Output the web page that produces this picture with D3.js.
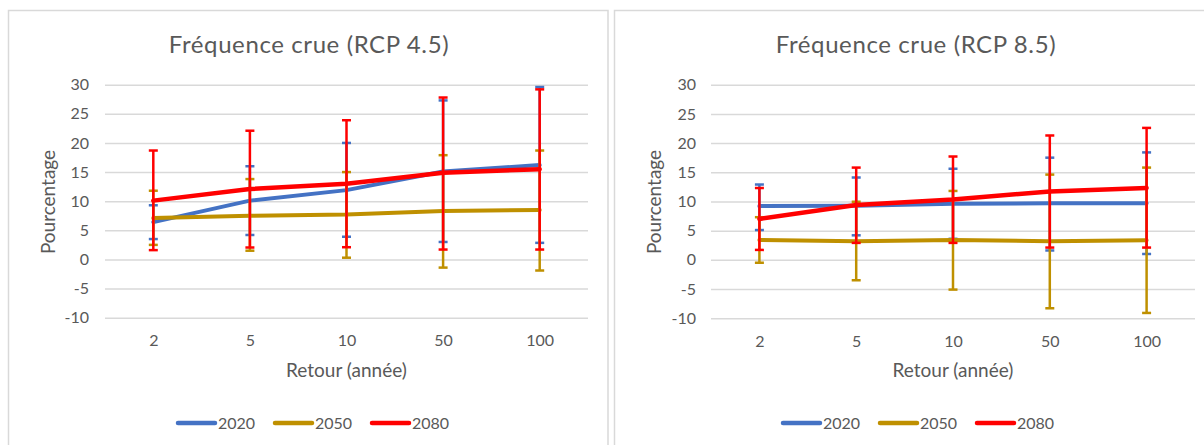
<!DOCTYPE html>
<html>
<head>
<meta charset="utf-8">
<script src="https://cdn.jsdelivr.net/npm/d3@7"></script>
<style>
  html, body { margin: 0; padding: 0; background: #ffffff; }
  svg { display: block; }
</style>
</head>
<body>
<svg id="chart" width="1204" height="445"></svg>
<script>
// ---------- data ----------
const categories = ["2", "5", "10", "50", "100"];
const years = ["2020", "2050", "2080"];
const yTicks = [-10, -5, 0, 5, 10, 15, 20, 25, 30];
const titles = ["Fréquence crue (RCP 4.5)", "Fréquence crue (RCP 8.5)"];
const xTitle = "Retour (année)";
const yTitle = "Pourcentage";

// RCP 4.5
const rcp45_2020 = [6.4, 10.1, 11.9, 15.1, 16.2];
const rcp45_2050 = [7.1, 7.5, 7.7, 8.3, 8.5];
const rcp45_2080 = [10.1, 12.1, 13.0, 14.9, 15.5];
const rcp45_2020_low = [3.5, 4.2, 3.9, 3.0, 2.85];
const rcp45_2020_high = [9.3, 16.0, 20.0, 27.3, 29.6];
const rcp45_2050_low = [2.5, 1.5, 0.3, -1.4, -1.9];
const rcp45_2050_high = [11.8, 13.8, 15.0, 17.9, 18.7];
const rcp45_2080_low = [1.6, 2.05, 2.1, 1.7, 1.7];
const rcp45_2080_high = [18.7, 22.1, 23.9, 27.8, 29.2];

// RCP 8.5
const rcp85_2020 = [9.2, 9.25, 9.6, 9.7, 9.7];
const rcp85_2050 = [3.4, 3.2, 3.4, 3.2, 3.35];
const rcp85_2080 = [7.0, 9.4, 10.35, 11.7, 12.3];
const rcp85_2020_low = [5.1, 4.2, 3.6, 1.6, 1.0];
const rcp85_2020_high = [12.9, 14.1, 15.6, 17.5, 18.4];
const rcp85_2050_low = [-0.5, -3.5, -5.1, -8.3, -9.1];
const rcp85_2050_high = [7.3, 9.95, 11.8, 14.6, 15.8];
const rcp85_2080_low = [1.7, 2.9, 2.9, 2.1, 2.1];
const rcp85_2080_high = [12.3, 15.8, 17.7, 21.3, 22.6];

const colors = ["#4472C4", "#BF9000", "#FF0000"];

const panelsData = [
  {
    title: titles[0],
    series: [
      { mean: rcp45_2020, low: rcp45_2020_low, high: rcp45_2020_high },
      { mean: rcp45_2050, low: rcp45_2050_low, high: rcp45_2050_high },
      { mean: rcp45_2080, low: rcp45_2080_low, high: rcp45_2080_high }
    ]
  },
  {
    title: titles[1],
    series: [
      { mean: rcp85_2020, low: rcp85_2020_low, high: rcp85_2020_high },
      { mean: rcp85_2050, low: rcp85_2050_low, high: rcp85_2050_high },
      { mean: rcp85_2080, low: rcp85_2080_low, high: rcp85_2080_high }
    ]
  }
];

// ---------- layout ----------
const layout = [
  { box: [8.5, 10.5, 599.5, 460], plotX: [105, 588], plotY: [317.7, 84.7], titleX: 309, yLabelX: 49, tickRight: 89, legendX: 176 },
  { box: [614.5, 10.5, 620, 460], plotX: [711, 1195], plotY: [318.2, 84.7], titleX: 916, yLabelX: 655, tickRight: 696, legendX: 781 }
];

const FONT = "Lato, 'Open Sans', sans-serif";
const TEXT = "#595959";
const svg = d3.select("#chart");

panelsData.forEach((panel, pi) => {
  const L = layout[pi];
  const g = svg.append("g");

  g.append("rect")
    .attr("x", L.box[0]).attr("y", L.box[1])
    .attr("width", L.box[2]).attr("height", L.box[3])
    .attr("fill", "#fff").attr("stroke", "#D9D9D9").attr("stroke-width", 1.5);

  const x = d3.scalePoint().domain(categories).range(L.plotX).padding(0.5);
  const y = d3.scaleLinear().domain([-10, 30]).range(L.plotY);

  // gridlines
  const yAxis = d3.axisLeft(y).tickValues(yTicks).tickFormat(d => String(d))
    .tickSize(-(L.plotX[1] - L.plotX[0])).tickPadding(L.plotX[0] - L.tickRight);
  const ya = g.append("g").attr("transform", `translate(${L.plotX[0]},0)`).call(yAxis);
  ya.select(".domain").remove();
  ya.selectAll(".tick line").attr("stroke", "#D9D9D9").attr("stroke-width", 1.5);
  ya.selectAll(".tick text").attr("fill", TEXT).attr("font-family", FONT).attr("font-size", 16);

  // x axis labels
  const xAxis = d3.axisBottom(x).tickSize(0).tickPadding(0);
  const xa = g.append("g").attr("transform", `translate(0,${L.plotY[0] + 17})`).call(xAxis);
  xa.select(".domain").remove();
  xa.selectAll(".tick text").attr("fill", TEXT).attr("font-family", FONT).attr("font-size", 16);

  // title
  g.append("text").attr("x", L.titleX).attr("y", 53).attr("text-anchor", "middle")
    .attr("fill", TEXT).attr("font-family", FONT).attr("font-size", 24)
    .attr("letter-spacing", 0.6).text(panel.title);

  // axis titles
  g.append("text").attr("x", (L.plotX[0] + L.plotX[1]) / 2 - 0).attr("y", 377)
    .attr("text-anchor", "middle").attr("fill", TEXT).attr("font-family", FONT).attr("font-size", 19)
    .text(xTitle);
  g.append("text").attr("transform", `translate(${L.yLabelX + 6},202) rotate(-90)`)
    .attr("text-anchor", "middle").attr("fill", TEXT).attr("font-family", FONT).attr("font-size", 19)
    .text(yTitle);

  // series
  const line = d3.line().x((d, i) => x(categories[i])).y(d => y(d));
  panel.series.forEach((s, si) => {
    const col = colors[si];
    const sg = g.append("g");
    sg.append("path").datum(s.mean).attr("d", line)
      .attr("fill", "none").attr("stroke", col).attr("stroke-width", si === 2 ? 4.5 : 4)
      .attr("stroke-linejoin", "round").attr("stroke-linecap", "round");
    const eb = sg.selectAll(".eb").data(categories).join("g");
    eb.append("line")
      .attr("x1", c => x(c)).attr("x2", c => x(c))
      .attr("y1", (c, i) => y(s.low[i])).attr("y2", (c, i) => y(s.high[i]))
      .attr("stroke", col).attr("stroke-width", 2.5);
    eb.append("line")
      .attr("x1", c => x(c) - 4.5).attr("x2", c => x(c) + 4.5)
      .attr("y1", (c, i) => y(s.low[i])).attr("y2", (c, i) => y(s.low[i]))
      .attr("stroke", col).attr("stroke-width", 2.5);
    eb.append("line")
      .attr("x1", c => x(c) - 4.5).attr("x2", c => x(c) + 4.5)
      .attr("y1", (c, i) => y(s.high[i])).attr("y2", (c, i) => y(s.high[i]))
      .attr("stroke", col).attr("stroke-width", 2.5);
  });

  // legend
  const lg = g.append("g");
  years.forEach((yr, i) => {
    const lx = L.legendX + i * 97;
    lg.append("line").attr("x1", lx + 2).attr("x2", lx + 39).attr("y1", 423).attr("y2", 423)
      .attr("stroke", colors[i]).attr("stroke-width", 4.5).attr("stroke-linecap", "round");
    lg.append("text").attr("x", lx + 42).attr("y", 428.5).attr("fill", TEXT)
      .attr("font-family", FONT).attr("font-size", 16).text(yr);
  });
});
</script>
</body>
</html>
